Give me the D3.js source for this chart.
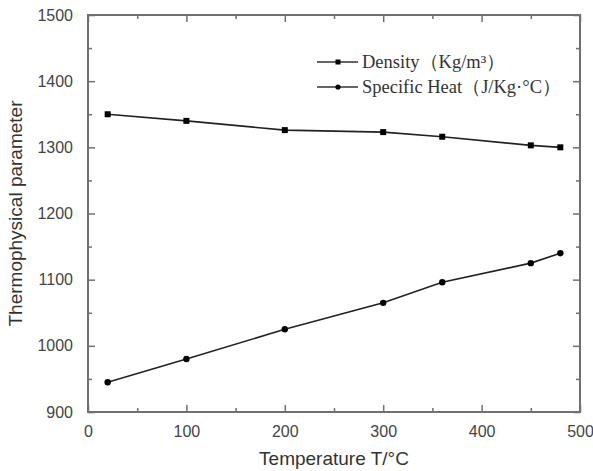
<!DOCTYPE html>
<html>
<head>
<meta charset="utf-8">
<script src="https://cdn.jsdelivr.net/npm/d3@7"></script>
<style>
  body { margin: 0; background: #fff; }
</style>
</head>
<body>
<div id="chart"></div>
<script>
const temperature = [20, 100, 200, 300, 360, 450, 480];
const density = [1350, 1340, 1326, 1323, 1316, 1303, 1300];
const specificHeat = [945, 980, 1025, 1065, 1096, 1125, 1140];
const xTicks = [0, 100, 200, 300, 400, 500];
const yTicks = [900, 1000, 1100, 1200, 1300, 1400, 1500];
const legendLabels = ["Density（Kg/m\u00B3）", "Specific Heat（J/Kg·°C）"];

const margin = { top: 15, right: 13, bottom: 59, left: 88 };
const width = 593 - margin.left - margin.right;
const height = 471 - margin.top - margin.bottom;
const axisColor = "#707070";

const x = d3.scaleLinear().domain([0, 500]).range([0, width]);
const y = d3.scaleLinear().domain([900, 1500]).range([height, 0]);

const svg = d3.select("#chart")
  .append("svg")
  .attr("width", 593)
  .attr("height", 471)
  .append("g")
  .attr("transform", "translate(" + margin.left + "," + margin.top + ")");

// ticks inside the frame, major and minor
const minorX = d3.range(50, 500, 100);
const minorY = d3.range(950, 1500, 100);

function styleAxis(g) {
  g.select(".domain").remove();
  g.selectAll("line").attr("stroke", axisColor).attr("stroke-width", 1.5);
  g.selectAll("text")
    .attr("fill", "#444")
    .style("font-family", "Liberation Sans, Arial, sans-serif")
    .style("font-size", "16px");
}

svg.append("g")
  .attr("transform", "translate(0," + height + ")")
  .call(d3.axisBottom(x).tickValues(xTicks).tickFormat(d3.format("d")).tickSizeInner(-7).tickSizeOuter(0).tickPadding(14))
  .call(styleAxis);
svg.append("g")
  .attr("transform", "translate(0," + height + ")")
  .call(d3.axisBottom(x).tickValues(minorX).tickSize(-4).tickFormat(""))
  .call(styleAxis);
svg.append("g")
  .call(d3.axisTop(x).tickValues(xTicks).tickSize(-7).tickFormat(""))
  .call(styleAxis);
svg.append("g")
  .call(d3.axisTop(x).tickValues(minorX).tickSize(-4).tickFormat(""))
  .call(styleAxis);

svg.append("g")
  .call(d3.axisLeft(y).tickValues(yTicks).tickFormat(d3.format("d")).tickSizeInner(-7).tickSizeOuter(0).tickPadding(15))
  .call(styleAxis);
svg.append("g")
  .call(d3.axisLeft(y).tickValues(minorY).tickSize(-4).tickFormat(""))
  .call(styleAxis);
svg.append("g")
  .attr("transform", "translate(" + width + ",0)")
  .call(d3.axisRight(y).tickValues(yTicks).tickSize(-7).tickFormat(""))
  .call(styleAxis);
svg.append("g")
  .attr("transform", "translate(" + width + ",0)")
  .call(d3.axisRight(y).tickValues(minorY).tickSize(-4).tickFormat(""))
  .call(styleAxis);

svg.append("rect")
  .attr("width", width)
  .attr("height", height)
  .attr("fill", "none")
  .attr("stroke", axisColor)
  .attr("stroke-width", 2);

// axis titles
svg.append("text")
  .attr("x", width / 2)
  .attr("y", height + 53)
  .attr("text-anchor", "middle")
  .attr("fill", "#333")
  .style("font-family", "Liberation Sans, Arial, sans-serif")
  .style("font-size", "19px")
  .text("Temperature T/°C");

svg.append("text")
  .attr("transform", "translate(" + (-66) + "," + height / 2 + ") rotate(-90)")
  .attr("text-anchor", "middle")
  .attr("fill", "#333")
  .style("font-family", "Liberation Sans, Arial, sans-serif")
  .style("font-size", "19px")
  .text("Thermophysical parameter");

const densityData = temperature.map((t, i) => ({ t: t, v: density[i] }));
const heatData = temperature.map((t, i) => ({ t: t, v: specificHeat[i] }));

const line = d3.line().x((d) => x(d.t)).y((d) => y(d.v));

svg.append("path")
  .datum(densityData)
  .attr("fill", "none")
  .attr("stroke", "#222")
  .attr("stroke-width", 1.6)
  .attr("d", line);

svg.append("path")
  .datum(heatData)
  .attr("fill", "none")
  .attr("stroke", "#222")
  .attr("stroke-width", 1.6)
  .attr("d", line);

svg.append("g")
  .selectAll("rect")
  .data(densityData)
  .join("rect")
  .attr("x", (d) => x(d.t) - 3)
  .attr("y", (d) => y(d.v) - 3)
  .attr("width", 6)
  .attr("height", 6)
  .attr("fill", "#000");

svg.append("g")
  .selectAll("circle")
  .data(heatData)
  .join("circle")
  .attr("cx", (d) => x(d.t))
  .attr("cy", (d) => y(d.v))
  .attr("r", 3.2)
  .attr("fill", "#000");

// legend
const legend = svg.append("g")
  .attr("transform", "translate(" + (317 - margin.left) + "," + (62 - margin.top) + ")");

legendLabels.forEach((label, i) => {
  const row = legend.append("g").attr("transform", "translate(0," + i * 25 + ")");
  row.append("line")
    .attr("x1", 0).attr("x2", 41)
    .attr("stroke", "#333")
    .attr("stroke-width", 1.6);
  if (i === 0) {
    row.append("rect").attr("x", 18.5).attr("y", -2.5).attr("width", 5).attr("height", 5).attr("fill", "#000");
  } else {
    row.append("circle").attr("cx", 21).attr("r", 2.6).attr("fill", "#000");
  }
  row.append("text")
    .attr("x", 45)
    .attr("y", 6)
    .attr("fill", "#333")
    .style("font-family", "Liberation Serif, Times New Roman, serif")
    .style("font-size", "18.5px")
    .text(label);
});
</script>
</body>
</html>
